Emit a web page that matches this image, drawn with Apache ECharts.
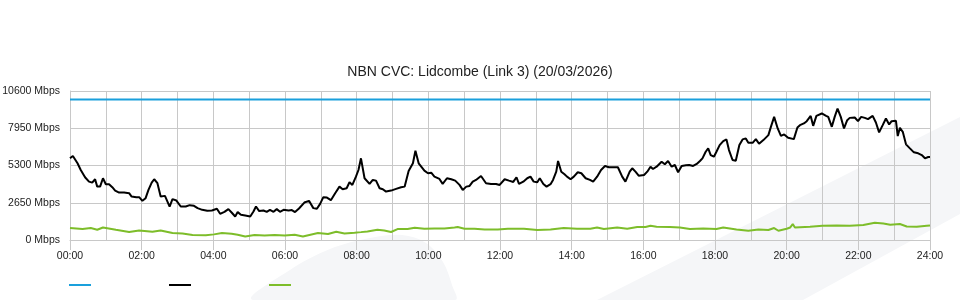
<!DOCTYPE html>
<html>
<head>
<meta charset="utf-8">
<script src="https://cdn.jsdelivr.net/npm/echarts@6/dist/echarts.min.js"></script>
<style>
html,body{margin:0;padding:0;background:#fff;}
#chart{width:960px;height:300px;}
</style>
</head>
<body>
<div id="chart"></div>
<script>
// ---- data (time in hours since midnight, values in Mbps) ----
var chartTitle = 'NBN CVC: Lidcombe (Link 3) (20/03/2026)';
var seriesNames = ['Capacity', 'Download', 'Upload'];

var capacityTimes = [0, 24];
var capacityValues = [10000, 10000];

var downloadTimes = [
0.00,0.08,0.21,0.30,0.42,0.53,0.62,0.70,0.76,0.84,0.92,1.00,1.09,1.18,1.26,1.37,1.51,1.65,1.72,1.85,1.93,
2.02,2.11,2.19,2.28,2.35,2.44,2.53,2.65,2.70,2.78,2.86,2.97,3.09,3.23,3.34,3.46,3.56,3.69,3.83,3.96,
4.10,4.19,4.31,4.42,4.51,4.61,4.68,4.77,4.89,5.03,5.12,5.19,5.28,5.40,5.49,5.58,5.68,5.77,5.86,5.96,
6.10,6.19,6.28,6.39,6.54,6.67,6.79,6.89,6.98,7.07,7.17,7.28,7.40,7.52,7.61,7.72,7.80,7.88,7.98,
8.05,8.12,8.22,8.36,8.45,8.54,8.64,8.73,8.82,8.96,9.10,9.24,9.34,9.45,9.57,9.64,9.73,9.89,9.99,
10.08,10.17,10.31,10.40,10.52,10.64,10.75,10.87,10.96,11.06,11.15,11.24,11.33,11.47,11.61,11.75,11.89,11.99,
12.13,12.25,12.37,12.46,12.53,12.65,12.76,12.85,12.94,13.04,13.11,13.21,13.30,13.41,13.48,13.57,13.62,13.71,13.80,13.87,13.97,
14.06,14.17,14.27,14.39,14.51,14.60,14.71,14.82,14.93,15.04,15.16,15.29,15.41,15.50,15.62,15.69,15.78,15.87,
16.02,16.11,16.20,16.27,16.37,16.51,16.60,16.69,16.79,16.88,16.97,17.07,17.19,17.28,17.39,17.49,17.58,17.65,17.74,17.81,17.88,17.97,
18.04,18.13,18.23,18.32,18.39,18.49,18.58,18.68,18.77,18.86,18.93,19.05,19.14,19.23,19.35,19.49,19.56,19.65,19.75,19.84,19.93,
20.04,20.20,20.30,20.37,20.48,20.56,20.60,20.67,20.74,20.83,20.98,21.10,21.16,21.26,21.34,21.42,21.51,21.60,21.69,21.76,21.90,21.99,
22.08,22.18,22.27,22.40,22.49,22.58,22.68,22.77,22.86,22.93,23.05,23.10,23.16,23.24,23.33,23.44,23.55,23.67,23.77,23.86,23.95,24.00
];
var downloadValues = [
5811,5973,5456,4981,4464,4152,4082,4322,3798,3798,4393,3968,3968,3756,3515,3373,3373,3330,3090,3047,3047,
2785,2976,3564,4082,4322,4039,3090,3139,3090,2381,2905,2806,2381,2381,2480,2430,2268,2147,2076,2098,
2218,1864,2005,2197,1956,1672,1984,1793,1743,1672,2027,2381,2055,2098,2005,2147,2005,2197,2005,2147,
2098,2126,1984,2239,2664,2785,2268,2218,2572,3047,3019,2834,3330,3798,3614,3685,4110,3919,4507,
4981,5811,4393,3990,4273,4223,3685,3614,3444,3515,3635,3756,3798,4911,5456,6349,5456,4932,4748,
4790,4507,4344,3990,4393,4322,4223,3919,3564,3798,3848,4152,4273,4556,4039,3990,3990,3919,
4322,4223,4131,4464,3990,4152,4393,4507,4152,4110,4393,3990,3798,3968,4273,4861,5619,4861,4677,4507,4322,
4507,4819,4748,4393,4273,4152,4507,4981,5265,5173,5173,5173,4507,4152,4861,5102,4861,4578,
4627,4861,5215,5052,5215,5570,5385,5619,5215,5336,4819,5265,5315,5336,5265,5407,5619,5811,6278,6519,6044,5924,
6278,6753,7037,7157,6399,5690,5640,6753,7157,7228,6916,6916,7178,6845,7107,7462,8050,8758,7936,7412,7511,
7270,7178,8007,8170,8291,8454,8362,8829,8120,8829,9000,8829,8758,8050,8758,9353,8758,7936,8524,8688,8716,8454,
8758,8688,8595,8829,8362,7653,8170,8645,8220,8454,8475,7391,7979,7696,6803,6519,6236,6165,6044,5811,5903,5903
];

var uploadTimes = [
0.00,0.35,0.58,0.76,0.92,1.28,1.65,1.93,2.30,2.53,2.86,3.14,3.42,3.79,4.02,4.24,4.51,4.68,4.89,5.15,5.43,5.71,5.99,
6.27,6.50,6.74,6.92,7.20,7.43,7.66,7.94,8.12,8.30,8.58,8.77,8.96,9.14,9.42,9.62,9.89,10.17,10.45,10.73,10.82,
11.01,11.29,11.57,11.94,12.22,12.67,13.04,13.41,13.78,14.15,14.52,14.71,14.90,15.27,15.55,15.83,16.06,16.20,16.37,
16.74,17.02,17.30,17.67,18.04,18.23,18.60,18.93,19.21,19.49,19.65,19.77,20.00,20.10,20.17,20.23,20.65,21.00,21.40,
21.76,22.14,22.46,22.70,22.89,23.16,23.35,23.63,23.91,24.00
];
var uploadValues = [
850,780,850,730,893,730,567,680,588,680,496,469,354,330,400,496,446,376,255,354,326,354,326,
376,255,397,496,425,588,468,517,560,610,730,680,567,780,780,872,800,822,822,893,921,
800,800,751,751,800,800,709,751,850,800,800,893,780,893,800,921,921,1013,942,
921,893,780,822,780,893,751,659,751,709,850,659,800,893,1134,893,942,1013,1035,
1013,1063,1226,1176,1084,1134,964,942,1013,1035
];

var yMax = 10600, yStep = 2650;

function pairs(t, v) { return t.map(function (x, i) { return [x, v[i]]; }); }
function pad(n) { return (n < 10 ? '0' : '') + n; }

var chart = echarts.init(document.getElementById('chart'), null, {renderer: 'canvas'});
var font = 'Liberation Sans, Arial, sans-serif';
var gridColor = '#c8c8c8';

var legendBase = {
  icon: 'rect', itemWidth: 22, itemHeight: 2, selectedMode: false,
  formatter: function () { return ''; },
  textStyle: {fontSize: 11, fontFamily: font}, top: 284, padding: 0
};

chart.setOption({
  animation: false,
  backgroundColor: 'transparent',
  textStyle: {fontFamily: font},
  graphic: [
    {type: 'polygon', z: -10, silent: true,
     shape: {points: [[597,300],[960,117],[960,214],[803,300]]},
     style: {fill: '#f5f6f8'}},
    {type: 'polygon', z: -10, silent: true,
     shape: {smooth: 0.35, points: [[253,300],[290,270],[330,249],[370,238],[402,235],[426,243],[443,262],[452,285],[455,300]]},
     style: {fill: '#f5f6f8'}}
  ],
  title: {
    text: chartTitle, left: 'center', top: 60,
    textStyle: {fontSize: 14, fontWeight: 'normal', color: '#222', fontFamily: font}
  },
  legend: [
    Object.assign({}, legendBase, {data: [seriesNames[0]], left: 69}),
    Object.assign({}, legendBase, {data: [seriesNames[1]], left: 169}),
    Object.assign({}, legendBase, {data: [seriesNames[2]], left: 269})
  ],
  grid: {left: 70, right: 30, top: 91, bottom: 60, containLabel: false, outerBoundsMode: 'none'},
  xAxis: {
    type: 'value', min: 0, max: 24, interval: 2,
    axisLine: {show: true, lineStyle: {color: gridColor}},
    axisTick: {show: true, length: 10, lineStyle: {color: gridColor}},
    axisLabel: {color: '#222', fontSize: 10.5, margin: 11, fontFamily: font,
      formatter: function (v) { return pad(v) + ':00'; }},
    splitLine: {show: true, lineStyle: {color: gridColor, width: 1}},
    minorTick: {show: false, splitNumber: 2},
    minorSplitLine: {show: true, lineStyle: {color: gridColor, width: 1}}
  },
  yAxis: {
    type: 'value', min: 0, max: yMax, interval: yStep,
    axisLine: {show: true, lineStyle: {color: gridColor}},
    axisTick: {show: false},
    axisLabel: {color: '#222', fontSize: 10.5, margin: 10, fontFamily: font,
      padding: [0, 0, 4, 0],
      formatter: function (v) { return v + ' Mbps'; }},
    splitLine: {show: true, lineStyle: {color: gridColor, width: 1}}
  },
  series: [
    {name: seriesNames[0], type: 'line', data: pairs(capacityTimes, capacityValues),
     showSymbol: false, lineStyle: {color: '#1aa0dc', width: 2}, itemStyle: {color: '#1aa0dc'}},
    {name: seriesNames[1], type: 'line', data: pairs(downloadTimes, downloadValues),
     showSymbol: false, lineStyle: {color: '#000', width: 2}, itemStyle: {color: '#000'}},
    {name: seriesNames[2], type: 'line', data: pairs(uploadTimes, uploadValues),
     showSymbol: false, lineStyle: {color: '#7dbd2a', width: 2}, itemStyle: {color: '#7dbd2a'}}
  ]
});
</script>
</body>
</html>
